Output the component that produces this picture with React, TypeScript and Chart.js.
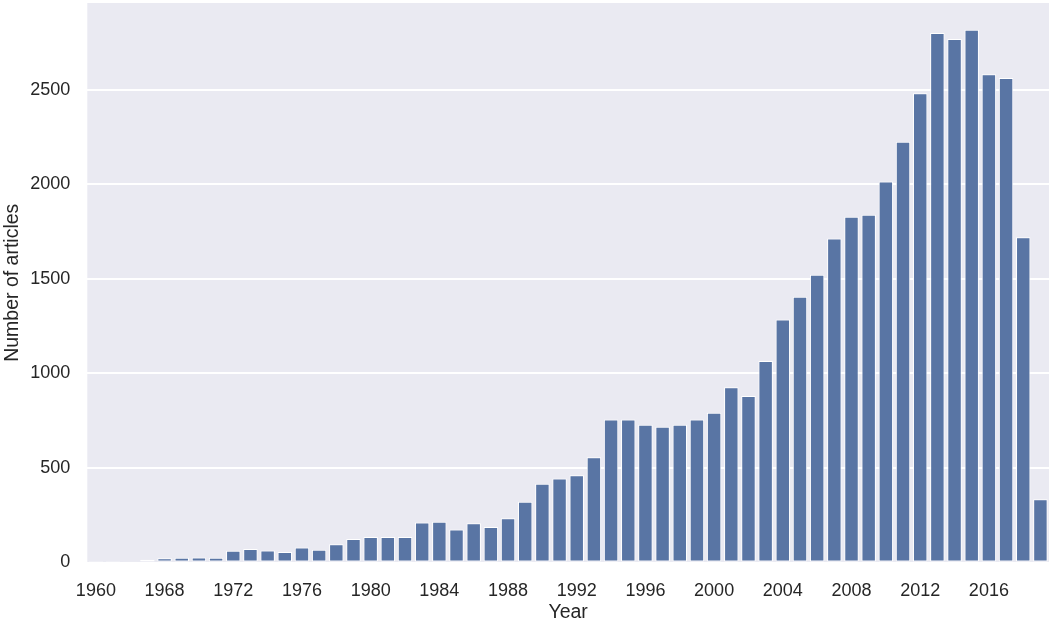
import React, { useEffect, useRef } from "react";
import { Chart, registerables } from "chart.js";

Chart.register(...registerables);

const years: string[] = [
  "1960", "1962", "1965", "1967",
  "1968", "1969", "1970", "1971", "1972", "1973", "1974", "1975", "1976", "1977", "1978", "1979",
  "1980", "1981", "1982", "1983", "1984", "1985", "1986", "1987", "1988", "1989",
  "1990", "1991", "1992", "1993", "1994", "1995", "1996", "1997", "1998", "1999",
  "2000", "2001", "2002", "2003", "2004", "2005", "2006", "2007", "2008", "2009",
  "2010", "2011", "2012", "2013", "2014", "2015", "2016", "2017", "2018", "2019",
];

const articles: number[] = [
  1, 2, 6, 14,
  23, 25, 26, 25, 62, 72, 63, 55, 79, 67, 97, 124,
  135, 135, 135, 211, 216, 175, 207, 188, 234, 321,
  416, 444, 462, 556, 756, 756, 729, 718, 729, 756,
  792, 927, 880, 1066, 1285, 1405, 1522, 1714, 1829, 1839,
  2015, 2225, 2482, 2801, 2769, 2818, 2582, 2563, 1720, 334,
];

const yTicks: number[] = [0, 500, 1000, 1500, 2000, 2500];
const yMax = 2959;

const FONT = "'Liberation Sans', Arial, sans-serif";
const TEXT = "#262626";

export default function App() {
  const ref = useRef<HTMLCanvasElement | null>(null);

  useEffect(() => {
    document.body.style.margin = "0";
    const canvas = ref.current;
    if (!canvas) return;

    const bgPlugin = {
      id: "bgPlugin",
      beforeDraw(chart: any) {
        const { ctx, chartArea } = chart;
        ctx.save();
        ctx.fillStyle = "#EAEAF2";
        ctx.fillRect(
          chartArea.left,
          chartArea.top,
          chartArea.right - chartArea.left,
          chartArea.bottom - chartArea.top
        );
        ctx.restore();
      },
    };

    const chart = new Chart(canvas, {
      type: "bar",
      data: {
        labels: years,
        datasets: [
          {
            data: articles,
            backgroundColor: "#5975A4",
            borderColor: "#FFFFFF",
            borderWidth: 1,
            borderSkipped: false,
            barPercentage: 0.84,
            categoryPercentage: 1,
          },
        ],
      },
      options: {
        responsive: false,
        animation: false,
        layout: { padding: { top: 3, right: 1, left: 0, bottom: 0 } },
        plugins: {
          legend: { display: false },
          tooltip: { enabled: false },
        },
        scales: {
          x: {
            type: "category",
            offset: true,
            grid: { display: false, drawTicks: false },
            border: { display: false },
            ticks: {
              autoSkip: false,
              maxRotation: 0,
              minRotation: 0,
              padding: 18,
              color: TEXT,
              font: { family: FONT, size: 18 },
              callback: (_v: any, i: number) => (i % 4 === 0 ? years[i] : ""),
            },
            title: {
              display: true,
              text: "Year",
              color: TEXT,
              font: { family: FONT, size: 19.5 },
              padding: { top: 0, bottom: -2 },
            },
            afterFit: (scale: any) => {
              scale.height = 59.5;
              scale.paddingLeft = 0;
              scale.paddingRight = 0;
            },
          },
          y: {
            min: 0,
            max: yMax,
            grid: { color: "#FFFFFF", lineWidth: 2, drawTicks: false },
            border: { display: false },
            ticks: {
              stepSize: 500,
              padding: 17,
              color: TEXT,
              font: { family: FONT, size: 18 },
              callback: (v: any) => String(v),
            },
            afterBuildTicks: (axis: any) => {
              axis.ticks = yTicks.map((v) => ({ value: v }));
            },
            title: {
              display: true,
              text: "Number of articles",
              color: TEXT,
              font: { family: FONT, size: 19.5 },
              padding: { top: 1, bottom: 0 },
            },
            afterFit: (scale: any) => {
              scale.width = 87.3;
              scale.paddingTop = 0;
              scale.paddingBottom = 0;
            },
          },
        },
      },
      plugins: [bgPlugin],
    });

    return () => {
      chart.destroy();
    };
  }, []);

  return (
    <div style={{ width: 1050, height: 622 }}>
      <canvas ref={ref} width={1050} height={622} style={{ display: "block" }} />
    </div>
  );
}
